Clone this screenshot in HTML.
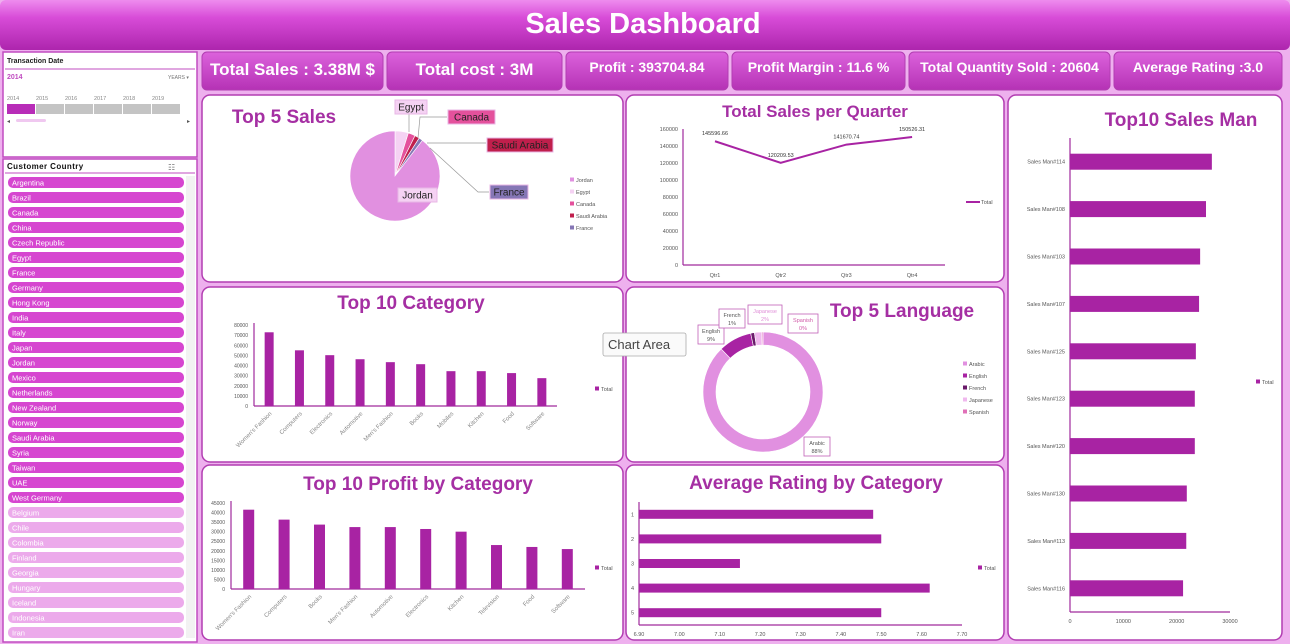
<!DOCTYPE html>
<html><head><meta charset="utf-8">
<style>
html,body{margin:0;padding:0;width:1290px;height:644px;overflow:hidden;background:#eeb0ee;font-family:"Liberation Sans",sans-serif;}
svg{display:block;}
</style></head>
<body>
<svg id="root" width="1290" height="644" viewBox="0 0 1290 644" xmlns="http://www.w3.org/2000/svg">
<defs>
<linearGradient id="hdr" x1="0" y1="0" x2="0" y2="1"><stop offset="0" stop-color="#ee8cee"/><stop offset="0.35" stop-color="#d84cd8"/><stop offset="1" stop-color="#ad25ad"/></linearGradient>
<linearGradient id="kpi" x1="0" y1="0" x2="0" y2="1"><stop offset="0" stop-color="#dc62dc"/><stop offset="1" stop-color="#b532b5"/></linearGradient>
</defs>
<rect x="0" y="0" width="1290" height="644" fill="#eeb0ee"/>
<rect x="0" y="0" width="1290" height="50" rx="6" fill="url(#hdr)"/>
<text x="643" y="33" text-anchor="middle" font-size="29" font-weight="bold" fill="#fff">Sales Dashboard</text>
<g id="kpis"></g>
<g id="left"></g>
<g id="panels"></g>
<g id="charts"></g>
</svg>
<script>
const NS='http://www.w3.org/2000/svg';
function el(tag,attrs,parent,txt){const e=document.createElementNS(NS,tag);for(const k in attrs)e.setAttribute(k,attrs[k]);if(txt!==undefined)e.textContent=txt;parent.appendChild(e);return e;}
const root=document.getElementById('root');
const kpiG=document.getElementById('kpis');
const leftG=document.getElementById('left');
const panelG=document.getElementById('panels');
const chartG=document.getElementById('charts');

/* ---------- data ---------- */
const kpiLabels=['Total Sales : 3.38M $','Total cost : 3M','Profit  :  393704.84','Profit Margin : 11.6 %','Total Quantity Sold :  20604','Average Rating :3.0'];
const countries=['Argentina','Brazil','Canada','China','Czech Republic','Egypt','France','Germany','Hong Kong','India','Italy','Japan','Jordan','Mexico','Netherlands','New Zealand','Norway','Saudi Arabia','Syria','Taiwan','UAE','West Germany','Belgium','Chile','Colombia','Finland','Georgia','Hungary','Iceland','Indonesia','Iran'];
const years=['2014','2015','2016','2017','2018','2019'];

const pieCountries=['Jordan','Egypt','Canada','Saudi Arabia','France'];
const pieSales=[2990000,160000,85000,57000,47000];

const quarters=['Qtr1','Qtr2','Qtr3','Qtr4'];
const quarterSales=[145596.66,120209.53,141670.74,150526.31];
const quarterTicks=[0,20000,40000,60000,80000,100000,120000,140000,160000];

const catNames=["Women's Fashion",'Computers','Electronics','Automotive',"Men's Fashion",'Books','Mobiles','Kitchen','Food','Software'];
const catSales=[72800,55000,50200,46200,43300,41300,34400,34400,32500,27500];
const catTicks=[0,10000,20000,30000,40000,50000,60000,70000,80000];

const languages=['Arabic','English','French','Japanese','Spanish'];
const langShare=[88,9,1,2,0.3];
const langLabels=['88%','9%','1%','2%','0%'];

const profitNames=["Women's Fashion",'Computers','Books',"Men's Fashion",'Automotive','Electronics','Kitchen','Television','Food','Software'];
const profitVals=[41500,36300,33700,32400,32400,31400,30000,23000,22000,20900];
const profitTicks=[0,5000,10000,15000,20000,25000,30000,35000,40000,45000];

const ratingCats=['1','2','3','4','5'];
const ratingVals=[7.48,7.50,7.15,7.62,7.50];
const ratingTicks=[6.90,7.00,7.10,7.20,7.30,7.40,7.50,7.60,7.70];

const salesMen=['Sales Man#114','Sales Man#108','Sales Man#103','Sales Man#107','Sales Man#125','Sales Man#123','Sales Man#120','Sales Man#130','Sales Man#113','Sales Man#116'];
const salesManVals=[26600,25500,24400,24200,23600,23400,23400,21900,21800,21200];
const salesManTicks=[0,10000,20000,30000];

const BAR='#a823a3', AX='#a02a9c', LBL='#555';

/* ---------- KPIs ---------- */
const kpiBoxes=[[202,181],[387,175],[566,162],[732,173],[909,201],[1114,168]];
const kpiSizes=[17,17,14,14,14,14];
kpiBoxes.forEach((b,i)=>{
  const r=el('rect',{x:b[0],y:52,width:b[1],height:38,rx:5,fill:'url(#kpi)',stroke:'#b23db2','stroke-width':1},kpiG);
  
  
  const t=el('text',{x:b[0]+b[1]/2,y:i<2?75:72,'text-anchor':'middle','font-size':kpiSizes[i],'font-weight':'bold',fill:'#fff','xml:space':'preserve'},kpiG,kpiLabels[i]);
  
  
});

/* ---------- left slicers ---------- */
let r=el('rect',{x:3,y:52,width:194,height:105,fill:'#fff',stroke:'#c04cc0','stroke-width':1.5},leftG);


let t=el('text',{x:7,y:63,'font-size':7,'font-weight':'bold',fill:'#222'},leftG,'Transaction Date');


let ln=el('line',{x1:5,y1:69,x2:195,y2:69,stroke:'#c04cc0','stroke-width':1},leftG);


t=el('text',{x:7,y:79,'font-size':7,'font-weight':'bold',fill:'#c04cc0'},leftG,'2014');


t=el('text',{x:168,y:79,'font-size':5,fill:'#777'},leftG,'YEARS  ▾');


years.forEach((y,i)=>{
  const x=7+i*29;
  const yt=el('text',{x:x,y:100,'font-size':5.5,fill:'#888'},leftG,y);
  
  
  const yb=el('rect',{x:x,y:104,width:28,height:10,fill:i===0?'#b82cb8':'#c4c4c4'},leftG);
  
  
});
r=el('rect',{x:16,y:119,width:30,height:3,rx:1.5,fill:'#f0c8f0'},leftG);


t=el('text',{x:7,y:123,'font-size':6,fill:'#555'},leftG,'◂');


t=el('text',{x:187,y:123,'font-size':6,fill:'#555'},leftG,'▸');



r=el('rect',{x:3,y:159,width:194,height:483,fill:'#fff',stroke:'#c04cc0','stroke-width':1.5},leftG);


t=el('text',{x:7,y:169,'font-size':8,'font-weight':'bold',fill:'#111','letter-spacing':'0.4'},leftG,'Customer Country');


t=el('text',{x:168,y:170,'font-size':8,fill:'#777'},leftG,'☷');


ln=el('line',{x1:5,y1:173,x2:195,y2:173,stroke:'#c04cc0','stroke-width':1},leftG);


r=el('rect',{x:186,y:176,width:9,height:462,fill:'#f2f2f2'},leftG);


countries.forEach((c,i)=>{
  const y=177+i*15;
  const dark=i<22;
  const b=el('rect',{x:8,y:y,width:176,height:11,rx:5,fill:dark?'#d646d0':'#ecaaeb'},leftG);
  
  
  const ct=el('text',{x:12,y:y+8.3,'font-size':7.5,fill:'#fff'},leftG,c);
  
  
});

/* ---------- panels ---------- */
const panels=[['top5-sales-panel',202,95,421,187],['quarter-panel',626,95,378,187],['category-panel',202,287,421,175],['language-panel',626,287,378,175],['profit-panel',202,465,421,175],['rating-panel',626,465,378,175],['salesman-panel',1008,95,274,545]];
panels.forEach(p=>{
  const pr=el('rect',{x:p[1],y:p[2],width:p[3],height:p[4],rx:8,fill:'#fff',stroke:'#b23db2','stroke-width':1.5},panelG);
  
  
});
const titles=[['Top 5 Sales',284,123,19],['Total Sales per Quarter',815,117,17],['Top 10 Category',411,309,19],['Top 5 Language',902,317,19],['Top 10 Profit by Category',418,490,19],['Average Rating by Category',816,489,19],['Top10 Sales Man',1181,126,19]];
titles.forEach(tt=>{
  const te=el('text',{x:tt[1],y:tt[2],'text-anchor':'middle','font-size':tt[3],'font-weight':'bold',fill:'#a52fa3'},panelG,tt[0]);
  
  
});

function legend(x,y,label,color,isLine){
  const m=isLine?el('line',{x1:x,y1:y,x2:x+14,y2:y,stroke:color,'stroke-width':2},chartG):el('rect',{x:x,y:y-2.5,width:4,height:4,fill:color},chartG);
  
  
  const lt=el('text',{x:x+(isLine?15:6),y:y+2,'font-size':5.5,fill:LBL},chartG,label);
  
  
}

/* ---------- Top 5 sales pie ---------- */
(function(){
  const cx=395,cy=176,R=45;
  const colors=['#e190e0','#f5d2f3','#e4519c','#c01f4c','#8576b5'];
  const total=pieSales.reduce((a,b)=>a+b,0);
  const order=[1,2,3,4,0];
  let a=0;
  order.forEach(i=>{
    const sweep=pieSales[i]/total*Math.PI*2;
    const a0=a,a1=a+sweep;a=a1;
    const x0=cx+R*Math.sin(a0),y0=cy-R*Math.cos(a0),x1=cx+R*Math.sin(a1),y1=cy-R*Math.cos(a1);
    const p=el('path',{d:`M${cx},${cy}L${x0},${y0}A${R},${R} 0 ${sweep>Math.PI?1:0} 1 ${x1},${y1}Z`,fill:colors[i],stroke:'#fff','stroke-width':0.6},chartG);
    
    
  });
  const labs=[[398,188,39,'#f5d2f3','#222'],[395,100,32,'#f5d2f3','#222'],[448,110,47,'#e4519c','#222'],[487,138,66,'#c01f4c','#222'],[490,185,38,'#8576b5','#222']];
  const leaders=[null,'M409,114 L409,132','M447,117 L420,117 L418,138','M486,143 L427,143','M489,192 L478,192 L430,148'];
  labs.forEach((l,i)=>{
    if(leaders[i]){const lp=el('path',{d:leaders[i],fill:'none',stroke:'#999','stroke-width':0.7},chartG);}
    const b=el('rect',{x:l[0],y:l[1],width:l[2],height:14,fill:l[3],stroke:'#e8b7e6','stroke-width':1},chartG);
    
    
    const lt=el('text',{x:l[0]+l[2]/2,y:l[1]+10.5,'text-anchor':'middle','font-size':10,fill:l[4]},chartG,pieCountries[i]);
    
    
  });
  pieCountries.forEach((c,i)=>legend(570,180+i*12,c,colors[i]));
})();

/* ---------- quarter line ---------- */
(function(){
  const x0=683,x1=945,y0=265,yTop=129,vmax=160000;
  const ys=v=>y0-(v/vmax)*(y0-yTop);
  const xs=i=>715+i*65.7;
  let a=el('line',{x1:x0,y1:yTop,x2:x0,y2:y0,stroke:AX,'stroke-width':1.2},chartG);
  a=el('line',{x1:x0,y1:y0,x2:x1,y2:y0,stroke:AX,'stroke-width':1.2},chartG);
  quarterTicks.forEach(v=>{const tl=el('text',{x:678,y:ys(v)+2,'text-anchor':'end','font-size':5.5,fill:LBL},chartG,v);});
  quarters.forEach((q,i)=>{const tl=el('text',{x:xs(i),y:277,'text-anchor':'middle','font-size':5.5,fill:LBL},chartG,q);});
  const pl=el('polyline',{points:quarterSales.map((v,i)=>xs(i)+','+ys(v)).join(' '),fill:'none',stroke:BAR,'stroke-width':2},chartG);
  
  
  quarterSales.forEach((v,i)=>{const tl=el('text',{x:xs(i),y:ys(v)-6,'text-anchor':'middle','font-size':5.5,fill:'#333'},chartG,v.toFixed(2));});
  legend(966,202,'Total',BAR,true);
})();

/* ---------- vertical bar chart helper ---------- */
function vbars(names,vals,ticks,o,prefix){
  const vmax=ticks[ticks.length-1];
  const ys=v=>o.y0-(v/vmax)*(o.y0-o.yTop);
  const band=(o.x1-o.x0)/names.length;
  const xs=i=>o.x0+band*(i+0.5);
  let a=el('line',{x1:o.x0,y1:o.yTop-2,x2:o.x0,y2:o.y0,stroke:AX,'stroke-width':1.2},chartG);
  a=el('line',{x1:o.x0,y1:o.y0,x2:o.x1,y2:o.y0,stroke:AX,'stroke-width':1.2},chartG);
  ticks.forEach(v=>{const tl=el('text',{x:o.x0-6,y:ys(v)+2,'text-anchor':'end','font-size':5,fill:LBL},chartG,v);});
  vals.forEach((v,i)=>{
    const b=el('rect',{x:xs(i)-o.bw/2,y:ys(v),width:o.bw,height:o.y0-ys(v),fill:BAR},chartG);
    
    
    const lx=xs(i)+3,ly=o.y0+8;
    const tl=el('text',{x:lx,y:ly,'text-anchor':'end','font-size':6,fill:'#888',transform:`rotate(-45 ${lx} ${ly})`},chartG,names[i]);
    
    
  });
  legend(o.lx,o.ly,'Total',BAR);
}
vbars(catNames,catSales,catTicks,{x0:254,x1:557,y0:406,yTop:325,bw:9,lx:595,ly:389},'category');
vbars(profitNames,profitVals,profitTicks,{x0:231,x1:585,y0:589,yTop:503,bw:11,lx:595,ly:568},'profit');

/* ---------- language donut ---------- */
(function(){
  const cx=763,cy=392,R=60,r=47;
  const colors=['#e190e0','#a823a3','#6a1a6a','#f0b8ee','#e070b8'];
  const total=langShare.reduce((a,b)=>a+b,0);
  let a=0;
  langShare.forEach((v,i)=>{
    const sw=v/total*Math.PI*2;const a0=a,a1=a+sw;a=a1;
    const P=(rad,ang)=>[cx+rad*Math.sin(ang),cy-rad*Math.cos(ang)];
    const [ax,ay]=P(R,a0),[bx,by]=P(R,a1),[cx2,cy2]=P(r,a1),[dx,dy]=P(r,a0);
    const lg=sw>Math.PI?1:0;
    const p=el('path',{d:`M${ax},${ay}A${R},${R} 0 ${lg} 1 ${bx},${by}L${cx2},${cy2}A${r},${r} 0 ${lg} 0 ${dx},${dy}Z`,fill:colors[i],stroke:'#fff','stroke-width':0.6},chartG);
    
    
  });
  const boxes=[[804,437,26],[698,325,26],[719,309,26],[748,305,34],[788,314,30]];
  const tcol=['#555','#555','#555','#e090d8','#d05aa8'];
  boxes.forEach((b,i)=>{
    const bb=el('rect',{x:b[0],y:b[1],width:b[2],height:19,fill:'#fff',stroke:'#c060b8','stroke-width':0.8},chartG);
    
    
    const t1=el('text',{x:b[0]+b[2]/2,y:b[1]+8,'text-anchor':'middle','font-size':5.5,fill:tcol[i]},chartG,languages[i]);
    
    
    const t2=el('text',{x:b[0]+b[2]/2,y:b[1]+16,'text-anchor':'middle','font-size':5.5,fill:tcol[i]},chartG,langLabels[i]);
    
    
  });
  languages.forEach((l,i)=>legend(963,364+i*12,l,colors[i]));
  const tip=el('rect',{x:603,y:333,width:83,height:23,rx:2,fill:'#fafafa',stroke:'#aaa','stroke-width':0.8},chartG);
  
  
  const tt=el('text',{x:608,y:349,'font-size':13,fill:'#444'},chartG,'Chart Area');
  
  
})();

/* ---------- horizontal bar helper ---------- */
function hbars(names,vals,ticks,o,prefix){
  const vmin=ticks[0],vmax=ticks[ticks.length-1];
  const xs=v=>o.x0+(v-vmin)/(vmax-vmin)*(o.x1-o.x0);
  const band=(o.y1-o.yTop)/names.length;
  const ys=i=>o.yTop+band*(i+0.5);
  let a=el('line',{x1:o.x0,y1:o.yTop,x2:o.x0,y2:o.y1,stroke:AX,'stroke-width':1.2},chartG);
  a=el('line',{x1:o.x0,y1:o.y1,x2:o.x1,y2:o.y1,stroke:AX,'stroke-width':1.2},chartG);
  ticks.forEach(v=>{const tl=el('text',{x:xs(v),y:o.y1+11,'text-anchor':'middle','font-size':5.5,fill:LBL},chartG,o.fmt(v));});
  vals.forEach((v,i)=>{
    const b=el('rect',{x:o.x0,y:ys(i)-o.bh/2,width:xs(v)-o.x0,height:o.bh,fill:BAR},chartG);
    
    
    const tl=el('text',{x:o.x0-5,y:ys(i)+2,'text-anchor':'end','font-size':5.5,fill:LBL},chartG,names[i]);
    
    
  });
  legend(o.lx,o.ly,'Total',BAR);
}
hbars(ratingCats,ratingVals,ratingTicks,{x0:639,x1:962,yTop:502,y1:625,bh:9,lx:978,ly:568,fmt:v=>v.toFixed(2)},'rating');
hbars(salesMen,salesManVals,salesManTicks,{x0:1070,x1:1230,yTop:138,y1:612,bh:16,lx:1256,ly:382,fmt:v=>String(v)},'salesman');
</script>
</body></html>
